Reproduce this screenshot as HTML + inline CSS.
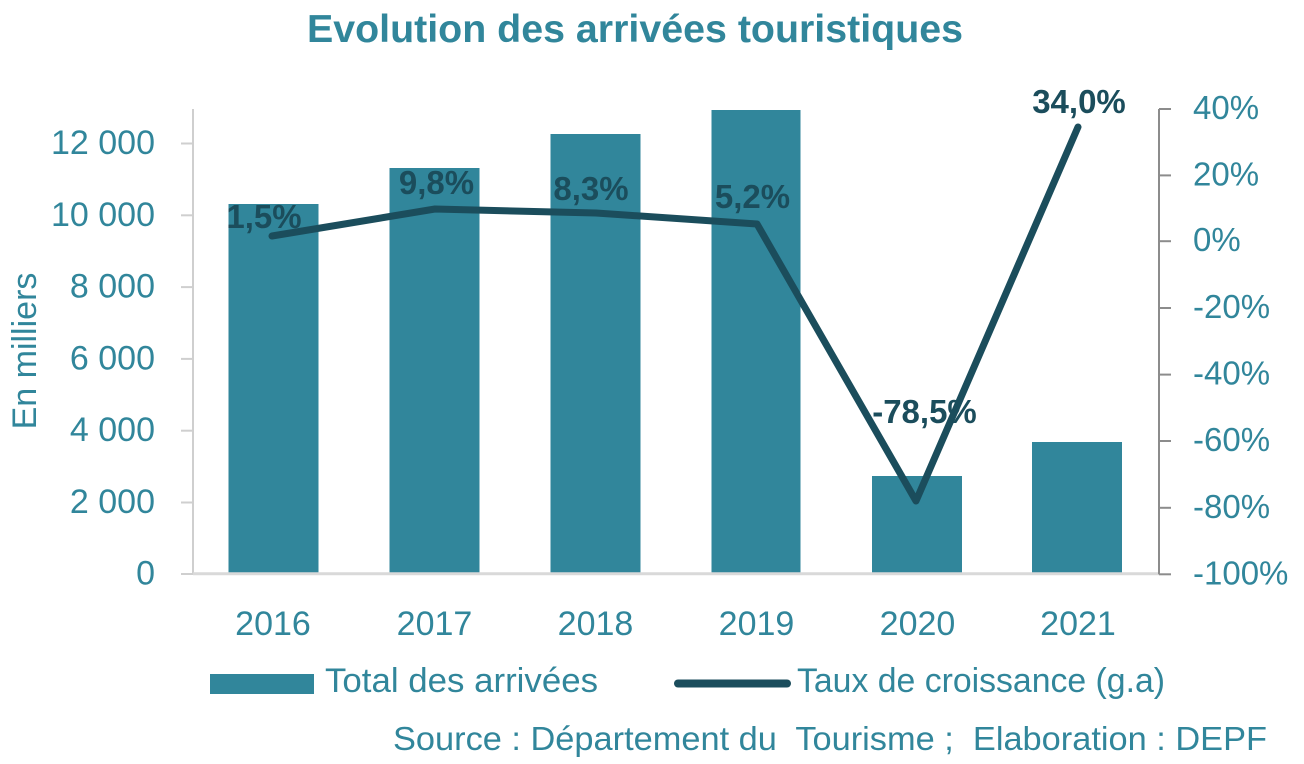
<!DOCTYPE html>
<html>
<head>
<meta charset="utf-8">
<style>
  html,body{margin:0;padding:0;background:#ffffff;}
  svg{display:block;}
  text{font-family:"Liberation Sans",sans-serif;}
</style>
</head>
<body>
<svg width="1304" height="764" viewBox="0 0 1304 764" xmlns="http://www.w3.org/2000/svg">
  <rect width="1304" height="764" fill="#ffffff"/>

  <!-- Title -->
  <text x="307" y="42" font-size="39" font-weight="bold" fill="#31869b" textLength="656" lengthAdjust="spacingAndGlyphs">Evolution des arrivées touristiques</text>

  <!-- Bars -->
  <g fill="#31869b">
    <rect x="228.5" y="204" width="90" height="370"/>
    <rect x="389.5" y="168" width="90" height="406"/>
    <rect x="550.5" y="134" width="90" height="440"/>
    <rect x="711.5" y="110" width="89" height="464"/>
    <rect x="872" y="476" width="90" height="98"/>
    <rect x="1032" y="442" width="90" height="132"/>
  </g>

  <!-- Left axis -->
  <line x1="193" y1="109" x2="193" y2="574" stroke="#cfcfcf" stroke-width="2"/>
  <g stroke="#cfcfcf" stroke-width="2">
    <line x1="181" y1="143.5" x2="193" y2="143.5"/>
    <line x1="181" y1="215.3" x2="193" y2="215.3"/>
    <line x1="181" y1="287.1" x2="193" y2="287.1"/>
    <line x1="181" y1="358.9" x2="193" y2="358.9"/>
    <line x1="181" y1="430.7" x2="193" y2="430.7"/>
    <line x1="181" y1="502.5" x2="193" y2="502.5"/>
    <line x1="181" y1="574" x2="193" y2="574"/>
  </g>
  <g font-size="34" fill="#31869b" text-anchor="end">
    <text x="155" y="154">12 000</text>
    <text x="155" y="225.8">10 000</text>
    <text x="155" y="297.6">8 000</text>
    <text x="155" y="369.4">6 000</text>
    <text x="155" y="441.2">4 000</text>
    <text x="155" y="513">2 000</text>
    <text x="155" y="584.5">0</text>
  </g>
  <text transform="translate(36,351) rotate(-90)" font-size="34" fill="#31869b" text-anchor="middle">En milliers</text>

  <!-- Bottom axis -->
  <line x1="193" y1="573.7" x2="1159" y2="573.7" stroke="#d9d9d9" stroke-width="3"/>

  <!-- Right axis -->
  <line x1="1159" y1="109" x2="1159" y2="574.3" stroke="#8c8c8c" stroke-width="2"/>
  <g stroke="#8c8c8c" stroke-width="2">
    <line x1="1159" y1="109" x2="1171" y2="109"/>
    <line x1="1159" y1="175.4" x2="1171" y2="175.4"/>
    <line x1="1159" y1="241.2" x2="1171" y2="241.2"/>
    <line x1="1159" y1="308" x2="1171" y2="308"/>
    <line x1="1159" y1="374.6" x2="1171" y2="374.6"/>
    <line x1="1159" y1="441" x2="1171" y2="441"/>
    <line x1="1159" y1="507.8" x2="1171" y2="507.8"/>
    <line x1="1159" y1="574.3" x2="1171" y2="574.3"/>
  </g>
  <g font-size="33" fill="#31869b">
    <text x="1193" y="119">40%</text>
    <text x="1193" y="185.4">20%</text>
    <text x="1193" y="251.2">0%</text>
    <text x="1193" y="318">-20%</text>
    <text x="1193" y="384.6">-40%</text>
    <text x="1193" y="451">-60%</text>
    <text x="1193" y="517.8">-80%</text>
    <text x="1193" y="584.3">-100%</text>
  </g>

  <!-- Category labels -->
  <g font-size="34" fill="#31869b" text-anchor="middle">
    <text x="273" y="635">2016</text>
    <text x="434.5" y="635">2017</text>
    <text x="595.5" y="635">2018</text>
    <text x="756.5" y="635">2019</text>
    <text x="917.5" y="635">2020</text>
    <text x="1078" y="635">2021</text>
  </g>

  <!-- Growth line -->
  <polyline points="272,236 435,209 596,213 757,224 916,501 1078,127" fill="none" stroke="#1b4d5c" stroke-width="7" stroke-linecap="round" stroke-linejoin="round"/>

  <!-- Data labels -->
  <g font-size="33" font-weight="bold" fill="#1b4d5c" text-anchor="middle">
    <text x="264" y="228">1,5%</text>
    <text x="436.5" y="194">9,8%</text>
    <text x="591" y="200">8,3%</text>
    <text x="752.5" y="208">5,2%</text>
    <text x="924.5" y="423">-78,5%</text>
    <text x="1079" y="113">34,0%</text>
  </g>

  <!-- Legend -->
  <rect x="210" y="674" width="104" height="20" fill="#31869b"/>
  <text x="325" y="692" font-size="34" fill="#31869b" textLength="273" lengthAdjust="spacingAndGlyphs">Total des arrivées</text>
  <line x1="678" y1="683.5" x2="787" y2="683.5" stroke="#1b4d5c" stroke-width="8" stroke-linecap="round"/>
  <text x="797" y="692" font-size="34" fill="#31869b" textLength="368" lengthAdjust="spacingAndGlyphs">Taux de croissance (g.a)</text>

  <!-- Source -->
  <text x="393" y="750" font-size="33" fill="#31869b" textLength="874" lengthAdjust="spacingAndGlyphs" xml:space="preserve">Source : Département du  Tourisme ;  Elaboration : DEPF</text>
</svg>
</body>
</html>
